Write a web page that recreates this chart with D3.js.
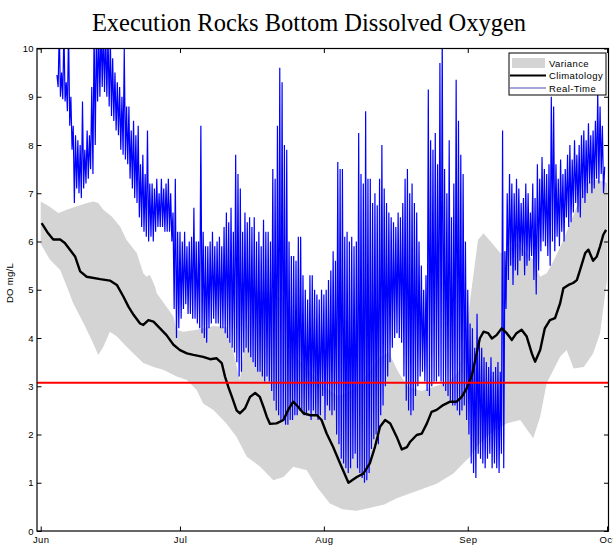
<!DOCTYPE html>
<html>
<head>
<meta charset="utf-8">
<script src="https://cdn.jsdelivr.net/npm/d3@7"></script>
<style>
  body { margin: 0; background: #fff; }
  svg { display: block; }
  .tick text { font-family: "Liberation Sans", Arial, sans-serif; font-size: 9.5px; letter-spacing: 0.4px; fill: #000; }
</style>
</head>
<body>
<svg id="chart" width="613" height="547"></svg>
<script>
// ---- Data (days counted from 1 June; dissolved oxygen in mg/L) ----

// Month tick labels on the x axis
const monthLabels = ["Jun", "Jul", "Aug", "Sep", "Oct"];
const yTicks = [0, 1, 2, 3, 4, 5, 6, 7, 8, 9, 10];

// Hypoxia threshold
const threshold = 3.07;

// Climatology (long-term mean)
const climDays = [0.2, 1.6, 2.7, 4.2, 5.2, 6.3, 7.4, 8.5, 9.9, 12.8, 14.9, 16.4, 17.8, 18.9, 20.0, 21.4, 22.1, 23.2, 24.3, 25.7,
  27.1, 28.6, 30.0, 31.5, 32.9, 35.0, 36.5, 37.9, 39.0, 39.7, 40.4, 41.2, 42.2, 42.9, 44.0, 45.1, 46.2, 47.2, 48.0, 48.7,
  49.4, 50.8, 52.3, 53.3, 54.4, 55.5, 56.6, 58.0, 59.5, 60.5, 61.6, 63.0, 64.5, 66.3, 68.1, 69.5, 70.9, 72.0, 73.1, 74.2,
  75.3, 76.7, 77.8, 78.9, 79.6, 81.0, 82.1, 83.2, 84.2, 85.3, 86.7, 88.2, 89.6, 90.7, 91.8, 92.9, 93.6, 94.6, 95.4, 96.4,
  97.2, 98.2, 99.3, 100.4, 101.5, 102.5, 103.6, 104.7, 105.8, 106.5, 107.6, 108.6, 109.7, 110.8, 111.9, 112.6, 113.7, 114.7, 115.5, 116.2,
  117.3, 118.0, 119.0, 119.8, 120.5, 121.2, 121.8];
const climValues = [6.38, 6.17, 6.04, 6.04, 5.97, 5.83, 5.69, 5.38, 5.27, 5.22, 5.19, 5.10, 4.86, 4.65, 4.48, 4.30, 4.27, 4.37, 4.34, 4.20,
  4.06, 3.86, 3.75, 3.68, 3.65, 3.61, 3.56, 3.58, 3.48, 3.20, 2.99, 2.78, 2.50, 2.44, 2.54, 2.78, 2.86, 2.78, 2.57, 2.37,
  2.22, 2.23, 2.30, 2.51, 2.68, 2.57, 2.44, 2.40, 2.40, 2.30, 2.02, 1.74, 1.40, 1.00, 1.12, 1.19, 1.40, 1.74, 2.16, 2.30,
  2.23, 1.95, 1.69, 1.74, 1.85, 1.99, 2.02, 2.23, 2.47, 2.51, 2.61, 2.68, 2.68, 2.78, 2.96, 3.23, 3.54, 3.99, 4.13, 4.10,
  3.99, 4.06, 4.20, 4.10, 3.96, 4.10, 4.17, 4.03, 3.68, 3.51, 3.75, 4.20, 4.37, 4.41, 4.72, 5.03, 5.10, 5.14, 5.20, 5.41,
  5.76, 5.83, 5.60, 5.69, 5.90, 6.14, 6.24];

// Variance envelope: upper edge
const upperDays = [0, 1.8, 3.8, 5.6, 7.8, 10, 11.4, 12.4, 13.5, 15.3, 17.1, 18.5, 20.7, 22.1, 22.8, 23.5, 24.6, 25, 27.1, 28.6,
  29.3, 30.7, 33.6, 35, 37.2, 40, 41.4, 42.9, 44.4, 45.5, 46.6, 49.4, 52.6, 55, 58, 61, 64, 67, 70, 73,
  75, 77, 79, 82, 85, 88, 90, 91.5, 92.5, 94.2, 95.4, 97.2, 99, 100.4, 102.6, 104.7, 106.1, 107.6, 109, 110.5,
  112.6, 115.5, 117.6, 119.8, 121.1, 122];
const upperValues = [6.83, 6.73, 6.59, 6.66, 6.73, 6.80, 6.83, 6.80, 6.66, 6.52, 6.31, 6.03, 5.76, 5.34, 5.27, 5.31, 5.07, 4.93, 4.65, 4.44,
  4.17, 4.13, 4.17, 4.20, 4.25, 4.23, 3.75, 3.13, 4.17, 4.80, 4.99, 4.95, 4.80, 3.60, 3.30, 3.00, 2.80, 2.90, 3.20, 3.60,
  3.70, 3.30, 3.00, 2.90, 3.00, 3.10, 3.30, 4.00, 4.78, 6.03, 6.17, 5.97, 5.76, 5.82, 5.97, 5.76, 5.62, 5.27, 5.34, 5.60,
  6.03, 6.73, 7.21, 7.28, 7.25, 7.21];

// Variance envelope: lower edge
const lowerDays = [0, 2, 4.2, 5.6, 7, 9.2, 11.3, 12.4, 13.5, 14.9, 16.4, 18.5, 20.7, 22.1, 24.3, 26.4, 29.3, 31.5, 33.6, 35,
  37.2, 40, 42.2, 44.4, 47.3, 50.1, 52.3, 54.4, 57.3, 59.5, 62.3, 65, 68, 71, 74, 76.7, 81, 85.3, 88.9, 91,
  92.5, 94, 96, 98, 100.4, 103.3, 106.1, 107.6, 109, 111.9, 113.3, 114.8, 117, 119, 120.5, 122];
const lowerValues = [5.95, 5.62, 5.41, 5.07, 4.72, 4.31, 3.89, 3.65, 3.82, 4.13, 4.03, 3.82, 3.61, 3.48, 3.40, 3.34, 3.20, 3.13, 2.92, 2.64,
  2.51, 2.23, 1.95, 1.54, 1.33, 1.05, 1.12, 1.33, 1.26, 0.91, 0.57, 0.45, 0.42, 0.48, 0.55, 0.68, 0.83, 0.98, 1.19, 1.40,
  1.54, 1.75, 1.95, 2.10, 2.23, 2.30, 1.92, 2.37, 3.06, 3.61, 3.75, 3.37, 3.40, 3.68, 4.10, 5.20];

// Real-time sensor readings, every 6 hours from day 3.5
const rtStartDay = 3.5;
const rtStepDays = 0.25;
const rtValues = [
  9.45, 9.2,
  10.4, 9.0, 9.5, 8.95,   10.4, 8.9, 9.3, 8.7,   10.4, 8.4, 9.0, 7.9,   8.4, 6.8, 8.2, 7.1,
  8.1, 7.0, 8.0, 6.9,     8.9, 7.1, 7.9, 7.2,    8.3, 7.3, 8.2, 7.5,    9.2, 7.4, 10.4, 8.0,
  10.4, 8.9, 10.4, 9.0,   10.5, 9.2, 10.4, 9.1,  10.4, 9.0, 10.3, 8.8,  10.2, 8.6, 9.8, 8.5,
  9.5, 8.3, 9.3, 8.2,     9.2, 7.9, 9.0, 7.8,    10.0, 7.7, 8.8, 7.6,   8.8, 7.3, 8.3, 7.1,
  8.5, 6.9, 8.2, 6.8,     8.4, 6.5, 7.6, 6.3,    7.8, 6.2, 7.4, 6.1,    8.3, 6.0, 7.2, 6.1,
  7.2, 6.0, 7.1, 6.2,     7.3, 6.3, 7.0, 6.3,    7.3, 6.3, 7.1, 6.2,    7.2, 6.2, 7.3, 6.2,
  7.0, 6.0, 6.6, 4.6,     7.3, 4.0, 6.2, 4.2,    6.2, 4.4, 6.0, 4.6,    6.2, 4.7, 5.9, 4.5,
  6.0, 4.5, 6.1, 4.4,     6.7, 4.4, 6.0, 4.3,    6.0, 4.2, 8.4, 4.1,    6.2, 4.0, 5.9, 3.9,
  5.9, 4.2, 6.0, 4.3,     6.2, 4.4, 5.9, 4.3,    6.0, 4.3, 6.1, 4.2,    5.9, 4.2, 6.3, 4.1,
  6.6, 4.0, 6.4, 3.9,     6.7, 3.8, 6.2, 3.7,    7.8, 3.5, 7.4, 3.2,    7.1, 3.3, 6.2, 3.7,
  6.6, 3.8, 6.4, 3.7,     6.5, 3.6, 6.3, 3.5,    6.5, 3.4, 6.0, 3.3,    6.2, 3.3, 5.9, 3.2,
  6.45, 3.1, 6.2, 3.2,    6.2, 3.1, 6.0, 2.9,    7.5, 2.7, 7.3, 2.5,    8.4, 2.4, 9.6, 2.3,
  9.3, 2.3, 8.0, 2.2,     7.9, 2.2, 6.0, 2.3,    5.7, 2.3, 5.7, 2.4,    5.6, 2.4, 6.1, 2.5,
  6.1, 2.5, 5.3, 2.4,     5.0, 2.4, 4.8, 2.5,    5.3, 2.3, 5.3, 2.5,    5.0, 2.4, 4.9, 2.3,
  4.8, 2.4, 5.0, 2.8,     4.9, 2.3, 5.0, 2.6,    5.2, 2.5, 5.4, 2.4,    5.8, 2.5, 5.6, 2.0,
  7.65, 1.8, 7.5, 1.5,    7.5, 1.4, 6.1, 1.3,    6.2, 1.2, 6.0, 1.3,    6.1, 1.5, 5.9, 1.6,
  6.0, 1.3, 8.25, 1.2,    7.4, 1.1, 7.2, 1.0,    8.7, 1.05, 7.3, 1.2,   7.3, 1.7, 6.8, 1.9,
  7.0, 2.0, 6.75, 1.8,    7.3, 2.4, 8.0, 2.6,    7.1, 3.0, 6.8, 3.2,    6.6, 3.5, 6.5, 3.8,
  6.4, 4.0, 6.3, 4.1,     6.6, 4.0, 6.5, 3.9,    6.8, 3.2, 7.3, 2.7,    7.5, 2.5, 7.0, 2.4,
  7.2, 2.5, 6.8, 2.8,     6.6, 3.0, 6.0, 3.2,    5.5, 3.3, 5.0, 3.1,    5.3, 2.9, 9.15, 2.8,
  8.1, 3.0, 7.9, 3.1,     8.25, 3.1, 7.6, 3.2,   9.7, 3.1, 10.3, 3.0,   7.5, 2.9, 7.0, 2.8,
  8.1, 2.7, 6.5, 2.6,     7.2, 2.6, 9.35, 2.5,   8.5, 2.4, 7.8, 2.5,    7.4, 2.6, 6.0, 2.3,
  5.0, 2.0, 4.3, 1.4,     4.2, 1.2, 3.8, 1.1,    4.5, 1.6, 3.9, 1.5,    3.8, 1.4, 3.6, 1.3,
  3.5, 1.5, 3.4, 1.6,     3.6, 1.3, 3.3, 1.4,    3.4, 1.3, 3.5, 1.2,    3.3, 1.6, 8.3, 1.3,
  5.8, 4.6, 7.0, 5.2,     7.4, 5.5, 7.2, 5.1,    7.0, 5.4, 7.3, 5.3,    7.1, 5.6, 6.8, 5.7,
  6.9, 5.3, 7.2, 5.5,     7.0, 5.6, 6.6, 5.7,    7.2, 5.2, 6.9, 4.9,    7.6, 5.4, 7.3, 5.8,
  7.75, 6.0, 7.5, 5.9,    7.4, 5.7, 7.6, 5.5,    9.0, 6.0, 8.8, 5.8,    7.6, 6.1, 7.3, 5.9,
  7.7, 6.2, 7.4, 6.0,     7.5, 6.5, 7.8, 6.3,    8.0, 6.4, 7.7, 6.6,    8.1, 6.8, 7.8, 6.6,
  8.0, 6.5, 8.2, 6.9,     8.3, 6.8, 8.1, 7.0,    8.45, 7.2, 8.2, 7.0,   8.3, 7.1, 8.5, 7.3,
  9.1, 7.2, 8.8, 7.4,     8.4, 7.0, 7.55
];

// ---- Layout ----
const W = 613, H = 547;
const plot = { left: 37, right: 608.5, top: 48.5, bottom: 531 };

const june1 = new Date(2014, 5, 1);
const DAY = 864e5;
const dayToDate = d => new Date(june1.getTime() + d * DAY);

const x = d3.scaleTime()
  .domain([dayToDate(-0.8), dayToDate(122.32)])
  .range([plot.left, plot.right]);
const y = d3.scaleLinear().domain([0, 10]).range([plot.bottom, plot.top]);

const svg = d3.select("#chart");

svg.append("defs").append("clipPath").attr("id", "plot-clip")
  .append("rect")
  .attr("x", plot.left).attr("y", plot.top)
  .attr("width", plot.right - plot.left).attr("height", plot.bottom - plot.top);

// Title
svg.append("text")
  .attr("x", 309).attr("y", 31)
  .attr("text-anchor", "middle")
  .attr("font-family", "'Liberation Serif', 'Times New Roman', serif")
  .attr("font-size", 24.5)
  .attr("fill", "#000")
  .text("Execution Rocks Bottom Dissolved Oxygen");

const g = svg.append("g").attr("clip-path", "url(#plot-clip)");

// Variance band: upper edge forward, lower edge backward
const bandPts = upperDays.map((d, i) => [x(dayToDate(d)), y(upperValues[i])])
  .concat(lowerDays.map((d, i) => [x(dayToDate(d)), y(lowerValues[i])]).reverse());
g.append("path")
  .attr("d", d3.line().curve(d3.curveLinear)(bandPts) + "Z")
  .attr("fill", "#d4d4d4")
  .attr("stroke", "none");

// Real-time readings
const rtLine = d3.line()
  .x((v, i) => x(dayToDate(rtStartDay + i * rtStepDays)))
  .y(v => y(v));
g.append("path")
  .attr("d", rtLine(rtValues))
  .attr("fill", "none")
  .attr("stroke", "#0000ff")
  .attr("stroke-width", 1.2);

// Climatology
const climLine = d3.line()
  .x((d, i) => x(dayToDate(d)))
  .y((d, i) => y(climValues[i]))
  .curve(d3.curveLinear);
g.append("path")
  .attr("d", climLine(climDays))
  .attr("fill", "none")
  .attr("stroke", "#000")
  .attr("stroke-width", 2.4)
  .attr("stroke-linejoin", "round");

// Threshold line
g.append("line")
  .attr("x1", plot.left).attr("x2", plot.right)
  .attr("y1", y(threshold)).attr("y2", y(threshold))
  .attr("stroke", "#ff0000")
  .attr("stroke-width", 2);

// ---- Axes (ticks pointing inward, box frame) ----
const monthTicks = monthLabels.map((m, i) => new Date(2014, 5 + i, 1));
const fmtMonth = d => monthLabels[monthTicks.findIndex(t => t.getTime() === d.getTime())];

svg.append("g")
  .attr("transform", `translate(0,${plot.bottom})`)
  .call(d3.axisBottom(x).tickValues(monthTicks).tickFormat(fmtMonth)
    .tickSizeInner(-4.5).tickSizeOuter(0).tickPadding(5))
  .call(a => a.select(".domain").remove());

svg.append("g")
  .attr("transform", `translate(0,${plot.top})`)
  .call(d3.axisTop(x).tickValues(monthTicks).tickFormat("")
    .tickSizeInner(-4.5).tickSizeOuter(0))
  .call(a => a.select(".domain").remove());

svg.append("g")
  .attr("transform", `translate(${plot.left},0)`)
  .call(d3.axisLeft(y).tickValues(yTicks).tickFormat(d3.format("d"))
    .tickSizeInner(-4.5).tickSizeOuter(0).tickPadding(3))
  .call(a => a.select(".domain").remove());

svg.append("g")
  .attr("transform", `translate(${plot.right},0)`)
  .call(d3.axisRight(y).tickValues(yTicks).tickFormat("")
    .tickSizeInner(-4.5).tickSizeOuter(0))
  .call(a => a.select(".domain").remove());

svg.selectAll(".tick line").attr("stroke", "#000");

svg.append("rect")
  .attr("x", plot.left).attr("y", plot.top)
  .attr("width", plot.right - plot.left).attr("height", plot.bottom - plot.top)
  .attr("fill", "none").attr("stroke", "#000").attr("stroke-width", 1.2);

// Y-axis title
svg.append("text")
  .attr("transform", `translate(13,${283}) rotate(-90)`)
  .attr("text-anchor", "middle")
  .attr("font-family", "'Liberation Sans', Arial, sans-serif")
  .attr("font-size", 9.5)
  .attr("letter-spacing", 0.3)
  .text("DO mg/L");

// ---- Legend ----
const legend = svg.append("g");
legend.append("rect")
  .attr("x", 509).attr("y", 53).attr("width", 97).attr("height", 42)
  .attr("fill", "#fff").attr("stroke", "#000").attr("stroke-width", 1);

const legendItems = [
  { label: "Variance", kind: "band" },
  { label: "Climatology", kind: "clim" },
  { label: "Real-Time", kind: "rt" }
];
legendItems.forEach((item, i) => {
  const cy = 63 + i * 12.5;
  if (item.kind === "band") {
    legend.append("rect").attr("x", 512).attr("y", cy - 5).attr("width", 33).attr("height", 10)
      .attr("fill", "#d4d4d4");
  } else {
    legend.append("line").attr("x1", 510).attr("x2", 546).attr("y1", cy).attr("y2", cy)
      .attr("stroke", item.kind === "clim" ? "#000" : "#4a4ab0")
      .attr("stroke-width", item.kind === "clim" ? 2.2 : 1);
  }
  legend.append("text")
    .attr("x", 549).attr("y", cy + 3.5)
    .attr("font-family", "'Liberation Sans', Arial, sans-serif")
    .attr("font-size", 9.5)
    .attr("letter-spacing", 0.4)
    .text(item.label);
});
</script>
</body>
</html>
